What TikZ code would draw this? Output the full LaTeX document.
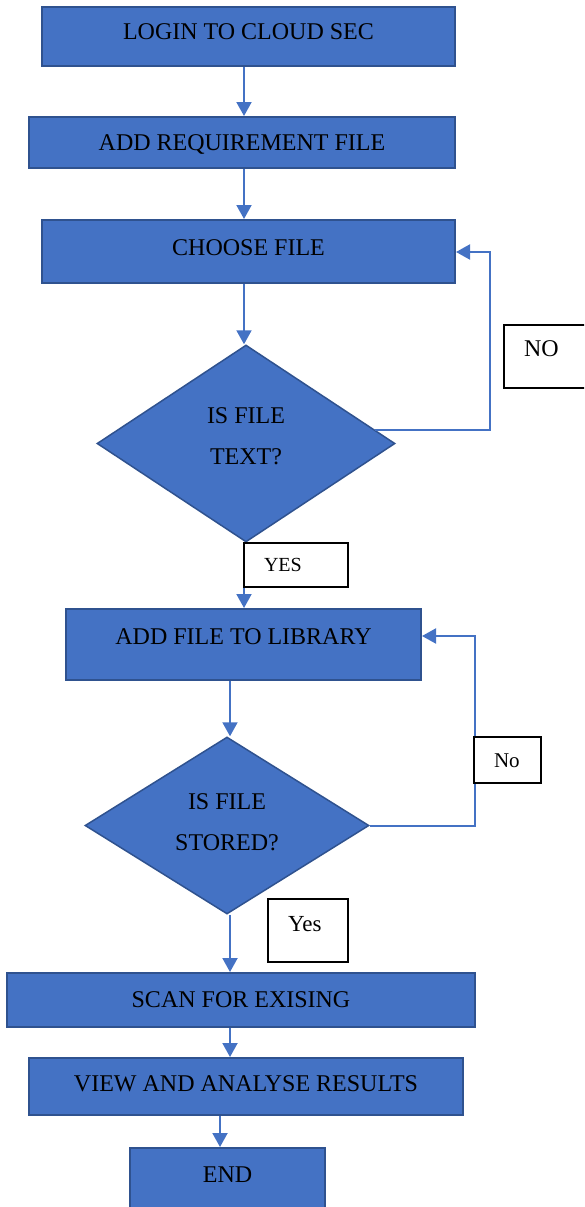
\documentclass[tikz,border=0pt]{standalone}
\usepackage{fontspec}
\setmainfont{Liberation Serif}
\usetikzlibrary{shapes.geometric,arrows.meta}
\definecolor{boxblue}{HTML}{4472C4}
\definecolor{boxline}{HTML}{2F528F}

\tikzset{
  proc/.style={draw=boxline, fill=boxblue, line width=2pt, inner sep=0pt, text height=16pt, font=\fontsize{24}{28}\selectfont},
  lift/.style={text depth=#1},
  test/.style={diamond, draw=boxline, fill=boxblue, line width=1.5pt, inner sep=0pt, align=center, text depth=0pt, font=\fontsize{24}{41}\selectfont},
  sink/.style={text height=#1},
  tag/.style={draw=black, fill=white, line width=1.2pt, inner xsep=20pt, inner ysep=0pt, align=left},
  flow/.style={draw=boxblue, line width=2pt, -{Triangle[length=14pt,width=15pt]}}
}

\begin{document}
\begin{tikzpicture}[x=1pt,y=-1pt]
\useasboundingbox (0,0) rectangle (584,1207);
\clip (0,0) rectangle (584,1207);

% boxes
\node[proc, minimum width=413pt, minimum height=59pt, lift=9pt] (login) at (248.5,36.5) {LOGIN TO CLOUD SEC};
\node[proc, minimum width=426pt, minimum height=51pt, lift=1pt] (addreq) at (242,142.5) {ADD REQUIREMENT FILE};
\node[proc, minimum width=413pt, minimum height=63pt, lift=9pt] (choose) at (248.5,251.5) {CHOOSE FILE};
\node[test, aspect=1.51, minimum width=298pt, minimum height=197pt, sink=41pt] (istext) at (246,443.5) {IS FILE\\TEXT?};
\node[proc, minimum width=355pt, minimum height=71pt, lift=17pt] (addfile) at (243.5,644.5) {ADD FILE TO LIBRARY};
\node[test, aspect=1.6, minimum width=284pt, minimum height=177pt, sink=49pt] (isstored) at (227,825.5) {IS FILE\\STORED?};
\node[proc, minimum width=468pt, minimum height=54pt, lift=2pt] (scan) at (241,1000) {SCAN FOR EXISING};
\node[proc, minimum width=434pt, minimum height=57pt, lift=7pt] (view) at (246,1086.5) {VIEW AND ANALYSE RESULTS};
\node[proc, minimum width=195pt, minimum height=64pt, lift=12pt] (stop) at (227.5,1180) {END};

% connectors
\coordinate (colA) at (244,0);
\coordinate (colB) at (230,0);
\coordinate (colC) at (220,0);
\coordinate (back1) at (490,252);
\coordinate (back2) at (475,636);

\draw[flow] (login.south -| colA) -- (addreq.north -| colA);
\draw[flow] (addreq.south -| colA) -- (choose.north -| colA);
\draw[flow] (choose.south -| colA) -- (istext.north -| colA);
\draw[flow] (istext.south -| colA) -- (addfile.north -| colA);
\draw[flow] (istext.6) -| (back1) -- (back1 -| choose.east);
\draw[flow] (addfile.south -| colB) -- (isstored.north -| colB);
\draw[flow] (isstored.south -| colB) -- (scan.north -| colB);
\draw[flow] (isstored.east) -| (back2) -- (back2 -| addfile.east);
\draw[flow] (scan.south -| colB) -- (view.north -| colB);
\draw[flow] (view.south -| colC) -- (stop.north -| colC);

% answers
\node[tag, text width=60pt, minimum height=63pt, font=\fontsize{24}{28}\selectfont, text height=16pt, text depth=17pt] (no1) at (554,356.5) {NO};
\node[tag, text width=64pt, minimum height=44pt, font=\fontsize{20}{24}\selectfont, text height=13.2pt, text depth=0pt] (yes1) at (296,565) {YES};
\node[tag, text width=27pt, minimum height=46pt, font=\fontsize{21}{25}\selectfont, text height=14pt, text depth=0pt] (no2) at (507.5,760) {No};
\node[tag, text width=40pt, minimum height=63pt, font=\fontsize{23}{27}\selectfont, text height=15.2pt, text depth=13pt] (yes2) at (308,930.5) {Yes};

\end{tikzpicture}
\end{document}
